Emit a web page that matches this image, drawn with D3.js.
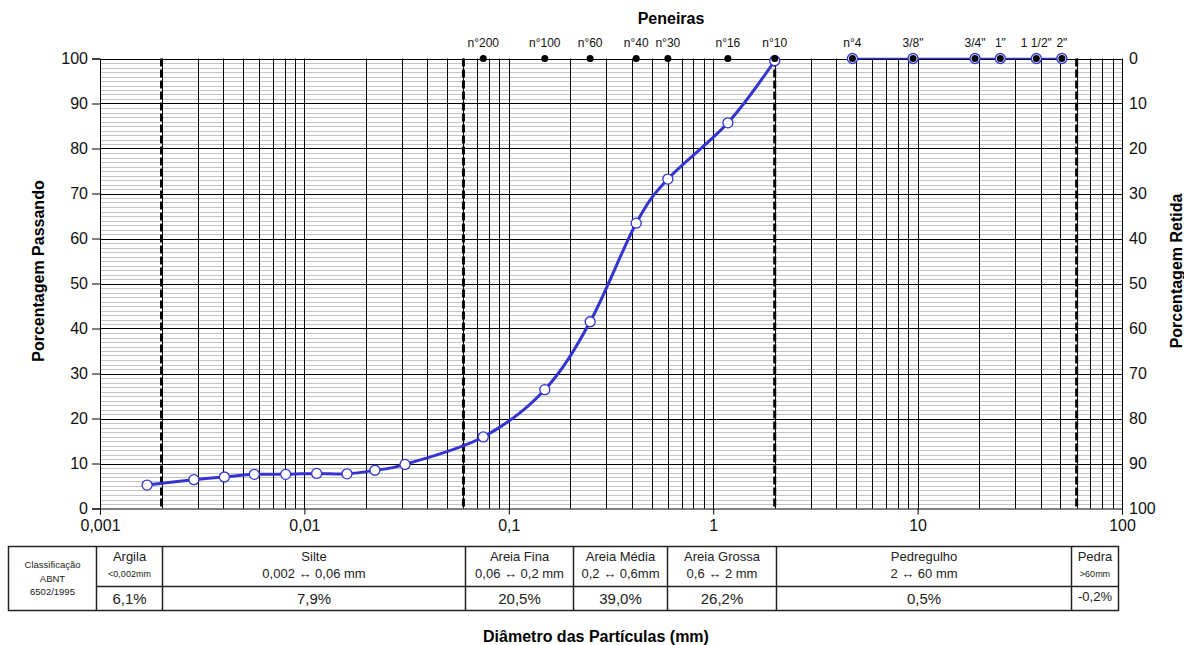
<!DOCTYPE html>
<html><head><meta charset="utf-8">
<script src="https://cdn.jsdelivr.net/npm/d3@7"></script>
<style>
body{margin:0;background:#fff;}
text{font-family:"Liberation Sans",Arial,sans-serif;}
</style></head>
<body><svg id="c" width="1184" height="645"></svg>
<script>
// ---- data ----
const hydroDiam = [0.0017, 0.00288, 0.00406, 0.00569, 0.0081, 0.01148, 0.01616, 0.02214, 0.03106];
const hydroPass = [5.2, 6.4, 7.0, 7.6, 7.6, 7.8, 7.7, 8.5, 9.8];
const sieveLabels = ["n°200","n°100","n°60","n°40","n°30","n°16","n°10","n°4","3/8\"","3/4\"","1\"","1 1/2\"","2\""];
const sieveDiam = [0.075, 0.15, 0.25, 0.42, 0.6, 1.18, 2.0, 4.8, 9.5, 19.1, 25.4, 38.1, 50.8];
const sievePass = [15.9, 26.4, 41.5, 63.4, 73.2, 85.7, 99.5, 100, 100, 100, 100, 100, 100];
const limitDiam = [0.002, 0.06, 2, 60];
const xTicks = [0.001, 0.01, 0.1, 1, 10, 100];
const xTickLabels = ["0,001", "0,01", "0,1", "1", "10", "100"];
const yTicks = [0,10,20,30,40,50,60,70,80,90,100];
const classNames = ["Argila", "Silte", "Areia Fina", "Areia Média", "Areia Grossa", "Pedregulho", "Pedra"];
const classRanges = ["<0,002mm", "0,002 ↔ 0,06 mm", "0,06 ↔ 0,2 mm", "0,2 ↔ 0,6mm", "0,6 ↔ 2 mm", "2 ↔ 60 mm", ">60mm"];
const classValues = ["6,1%", "7,9%", "20,5%", "39,0%", "26,2%", "0,5%", "-0,2%"];

// ---- layout ----
const svg = d3.select("#c");
const L = 100, R = 1122, T = 58.5, B = 508.5;
const x = d3.scaleLog().domain([0.001, 100]).range([L, R]);
const y = d3.scaleLinear().domain([0, 100]).range([B, T]);
const yR = d3.scaleLinear().domain([100, 0]).range([B, T]);
const blue = "#3434d0";

// minor horizontal grid
const g = svg.append("g");
g.selectAll(".hm").data(d3.range(1, 100).filter(v => v % 10 !== 0)).join("line")
  .attr("x1", L).attr("x2", R).attr("y1", d => Math.round(y(d)) + 0.5).attr("y2", d => Math.round(y(d)) + 0.5)
  .attr("stroke", "#c4c4c4").attr("stroke-width", 1);
// vertical grid
const vt = x.ticks().filter(v => v > 0.0011 && v < 99);
g.selectAll(".v").data(vt).join("line")
  .attr("x1", d => Math.round(x(d)) + 0.5).attr("x2", d => Math.round(x(d)) + 0.5)
  .attr("y1", T).attr("y2", B).attr("stroke", "#000").attr("stroke-width", 1);
// major horizontal grid
g.selectAll(".hM").data(d3.range(10, 101, 10)).join("line")
  .attr("x1", L).attr("x2", R).attr("y1", d => Math.round(y(d)) + 0.5).attr("y2", d => Math.round(y(d)) + 0.5)
  .attr("stroke", "#000").attr("stroke-width", 1);
g.append("line").attr("x1", R + 0.5).attr("x2", R + 0.5).attr("y1", T).attr("y2", B).attr("stroke", "#000");

// dashed limits
g.selectAll(".lim").data(limitDiam).join("line")
  .attr("x1", d => x(d)).attr("x2", d => x(d)).attr("y1", T).attr("y2", B)
  .attr("stroke", "#000").attr("stroke-width", 3).attr("stroke-dasharray", "8,3");

// axes
const fs = "16px";
const ax = svg.append("g").attr("transform", `translate(0,${B})`)
  .call(d3.axisBottom(x).tickValues(xTicks).tickFormat((d, i) => xTickLabels[i]).tickSize(6).tickPadding(5));
const ay = svg.append("g").attr("transform", `translate(${L},0)`)
  .call(d3.axisLeft(y).tickValues(yTicks).tickSize(8).tickPadding(4));
const ar = svg.append("g").attr("transform", `translate(${R},0)`)
  .call(d3.axisRight(yR).tickValues(yTicks).tickSize(0).tickPadding(7));
[ax, ay, ar].forEach(a => {
  a.selectAll("text").attr("font-size", fs).attr("fill", "#111").style("font-family", "'Liberation Sans',Arial,sans-serif");
  a.selectAll("line").attr("stroke", "#000");
  a.select(".domain").attr("stroke", "#000");
});
ar.select(".domain").remove();

// curve: hydrometer + sieves through n°10
const mainPts = hydroDiam.map((d, i) => [d, hydroPass[i]])
  .concat(sieveDiam.slice(0, 7).map((d, i) => [d, sievePass[i]]));
const line = d3.line().x(d => x(d[0])).y(d => y(d[1])).curve(d3.curveCardinal.tension(0));
svg.append("path").attr("d", line(mainPts)).attr("fill", "none").attr("stroke", blue).attr("stroke-width", 3);
const coarsePts = sieveDiam.slice(7).map((d, i) => [d, sievePass[i + 7]]);
svg.append("path").attr("d", d3.line().x(d => x(d[0])).y(d => y(d[1]))(coarsePts))
  .attr("fill", "none").attr("stroke", blue).attr("stroke-width", 1.5);
svg.selectAll(".pt").data(mainPts.concat(coarsePts)).join("circle")
  .attr("cx", d => x(d[0])).attr("cy", d => y(d[1])).attr("r", 5)
  .attr("fill", "#fff").attr("stroke", blue).attr("stroke-width", 1.3);

// sieve markers
svg.selectAll(".sv").data(sieveDiam).join("circle")
  .attr("cx", d => x(d)).attr("cy", y(100)).attr("r", 3.5).attr("fill", "#000");
svg.selectAll(".sl").data(sieveDiam).join("text")
  .attr("x", d => x(d)).attr("y", 47).attr("text-anchor", "middle")
  .attr("font-size", "12px").attr("fill", "#111").text((d, i) => sieveLabels[i]);

// titles
svg.append("text").attr("x", 671).attr("y", 24).attr("text-anchor", "middle")
  .attr("font-size", "16px").attr("font-weight", "bold").text("Peneiras");
svg.append("text").attr("transform", "translate(44,271) rotate(-90)").attr("text-anchor", "middle")
  .attr("font-size", "16px").attr("font-weight", "bold").text("Porcentagem Passando");
svg.append("text").attr("transform", "translate(1182,271) rotate(-90)").attr("text-anchor", "middle")
  .attr("font-size", "16px").attr("font-weight", "bold").text("Porcentagem Retida");
svg.append("text").attr("x", 596).attr("y", 642).attr("text-anchor", "middle")
  .attr("font-size", "16px").attr("font-weight", "bold").text("Diâmetro das Partículas (mm)");

// classification table
const edges = [8.5, 96.5, 162.5, 465.5, 573.5, 667.5, 776.5, 1071.5, 1118.5];
const tT = 546.5, tM = 586.5, tB = 610.5;
const tg = svg.append("g");
tg.append("rect").attr("x", edges[0]).attr("y", tT).attr("width", edges[8] - edges[0]).attr("height", tB - tT)
  .attr("fill", "none").attr("stroke", "#222").attr("stroke-width", 1.5);
tg.selectAll(".ce").data(edges.slice(1, 8)).join("line")
  .attr("x1", d => d).attr("x2", d => d).attr("y1", tT).attr("y2", tB).attr("stroke", "#222").attr("stroke-width", 1.5);
tg.append("line").attr("x1", edges[1]).attr("x2", edges[8]).attr("y1", tM).attr("y2", tM).attr("stroke", "#222").attr("stroke-width", 1.5);
["Classificação", "ABNT", "6502/1995"].forEach((t, i) => {
  tg.append("text").attr("x", (edges[0] + edges[1]) / 2).attr("y", 568 + i * 13.5).attr("text-anchor", "middle")
    .attr("font-size", "9.5px").attr("fill", "#222").text(t);
});
classNames.forEach((n, i) => {
  const cx = (edges[i + 1] + edges[i + 2]) / 2;
  const small = (i === 0 || i === 6);
  tg.append("text").attr("x", cx).attr("y", 561).attr("text-anchor", "middle")
    .attr("font-size", "13px").attr("fill", "#222").text(n);
  tg.append("text").attr("x", cx).attr("y", small ? 577 : 578).attr("text-anchor", "middle")
    .attr("font-size", small ? "9px" : "13px").attr("fill", "#222").text(classRanges[i]);
  tg.append("text").attr("x", cx).attr("y", i === 6 ? 601 : 604).attr("text-anchor", "middle")
    .attr("font-size", i === 6 ? "13px" : "15px").attr("fill", "#222").text(classValues[i]);
});
</script></body></html>
